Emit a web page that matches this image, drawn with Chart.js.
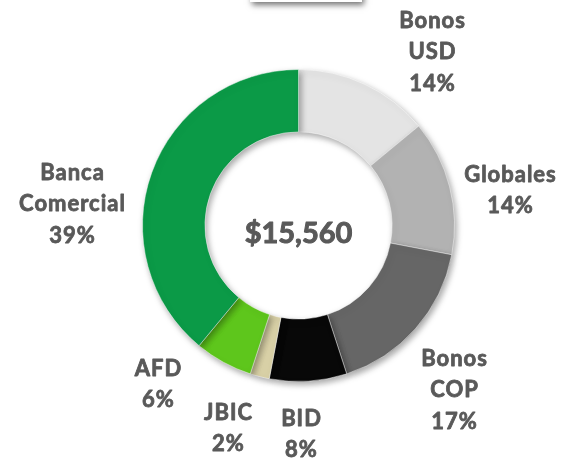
<!DOCTYPE html>
<html>
<head>
<meta charset="utf-8">
<script src="https://cdn.jsdelivr.net/npm/chart.js@4/dist/chart.umd.min.js"></script>
<style>
  html, body { margin: 0; padding: 0; background: #fff; overflow: hidden; }
  #wrap { position: relative; width: 562px; height: 463px; }
  #topbox {
    position: absolute; left: 250px; top: -40px; width: 112px; height: 42px;
    background: #fff; box-shadow: 2px 3px 6px rgba(0, 0, 0, 0.55);
  }
</style>
</head>
<body>
<div id="wrap">
  <div id="topbox"></div>
  <canvas id="chart" width="562" height="463"></canvas>
</div>
<script>
const labels = ["Bonos USD", "Globales", "Bonos COP", "BID", "JBIC", "AFD", "Banca Comercial"]
const shares = [14, 14, 17, 8, 2, 6, 39]
const labelLines = [
  ["Bonos", "USD", "14%"],
  ["Globales", "14%"],
  ["Bonos", "COP", "17%"],
  ["BID", "8%"],
  ["JBIC", "2%"],
  ["AFD", "6%"],
  ["Banca", "Comercial", "39%"]
]
const totalText = "$15,560"

const colors = ["#e4e4e4", "#b2b2b2", "#666666", "#080808", "#d8d0a6", "#5ec61c", "#0b9a47"]

// label centres relative to the doughnut centre (first line)
const labelOffsets = [[134, -205], [212, -51], [156, 133], [3, 193], [-70, 187], [-140, 143], [-226, -53]]

function boldText(ctx, t, x, y, w) {
  ctx.lineWidth = w
  ctx.strokeText(t, x, y)
  ctx.fillText(t, x, y)
}

const outsideLabels = {
  id: "outsideLabels",
  beforeDatasetsDraw(chart) {
    const ctx = chart.ctx
    ctx.save()
    ctx.shadowColor = "rgba(0,0,0,0.35)"
    ctx.shadowBlur = 6
    ctx.shadowOffsetX = 2
    ctx.shadowOffsetY = 3
  },
  afterDatasetsDraw(chart) {
    const ctx = chart.ctx
    ctx.restore()
    const arc = chart.getDatasetMeta(0).data[0]
    const cx = arc.x, cy = arc.y
    ctx.save()
    ctx.fillStyle = "#595959"
    ctx.strokeStyle = "#595959"
    ctx.lineJoin = "round"
    ctx.textAlign = "center"
    ctx.textBaseline = "middle"
    ctx.font = "bold 22px Lato"
    ctx.letterSpacing = "1px"
    labelLines.forEach((lines, i) => {
      const [dx, dy] = labelOffsets[i]
      lines.forEach((t, j) => boldText(ctx, t, cx + dx, cy + dy + j * 31.5, 0.8))
    })
    ctx.letterSpacing = "0px"
    ctx.font = "bold 29px Lato"
    boldText(ctx, totalText, cx, cy + 8, 1)
    ctx.restore()
  }
}

new Chart(document.getElementById("chart"), {
  type: "doughnut",
  data: {
    labels: labels,
    datasets: [{
      data: shares,
      backgroundColor: colors,
      borderColor: "rgba(255,255,255,0.45)",
      borderWidth: 1
    }]
  },
  options: {
    responsive: false,
    animation: false,
    cutout: "60%",
    layout: { padding: { top: 69, bottom: 81, left: 142, right: 107 } },
    plugins: {
      legend: { display: false },
      tooltip: { enabled: false }
    }
  },
  plugins: [outsideLabels]
})
</script>
</body>
</html>
